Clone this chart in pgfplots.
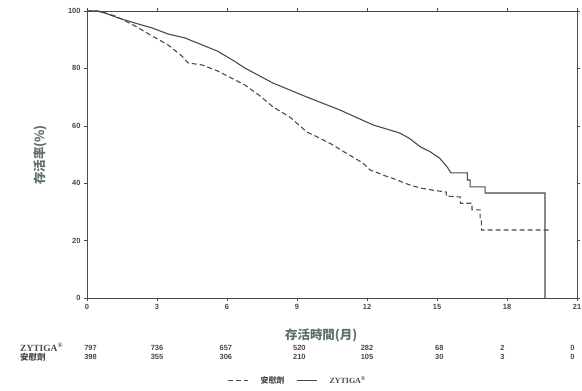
\documentclass[border=0pt]{standalone}
\usepackage{pgfplots}
\pgfplotsset{compat=1.18}
\usepackage{fontspec}
\setmainfont{Liberation Sans}
\newfontfamily\cjk{Noto Sans CJK TC}
\newfontfamily\serifz{Liberation Serif}
\definecolor{txt}{HTML}{484848}
\definecolor{lab}{HTML}{5F6F68}
\definecolor{ln}{HTML}{4A4A4A}
\tikzset{rowA/.style={text=txt, font=\bfseries\fontsize{7.5}{8}\selectfont, inner sep=0pt}}
\begin{document}
\begin{tikzpicture}
\path[use as bounding box] (-87bp,-93bp) rectangle (495bp,298bp);
\begin{axis}[
  at={(0,0)}, anchor=south west,
  width=490bp, height=287bp, scale only axis,
  xmin=0, xmax=21, ymin=0, ymax=100,
  xtick={0,3,...,21}, ytick={0,20,...,100},
  tick align=outside, major tick length=3bp,
  tick style={ln, line width=0.6pt},
  axis line style={ln, line width=0.8pt},
  tick label style={font=\fontsize{7.5}{8}\selectfont\bfseries, text=txt},
  /pgf/number format/assume math mode=true,
  xlabel={\cjk 存活時間(月)},
  ylabel={\cjk 存活率(\%)},
  xlabel style={font=\fontsize{12.5}{14}\selectfont\bfseries, text=lab, at={(axis description cs:0.478,-0.129)}, anchor=center},
  ylabel style={font=\fontsize{12.5}{14}\selectfont\bfseries, text=lab, at={(axis description cs:-0.096,0.498)}, anchor=center},
  clip=false,
  legend columns=2,
  legend style={draw=none, fill=none, at={(axis description cs:0.43,-0.289)}, anchor=center,
    font=\fontsize{8}{9}\selectfont, text=txt, column sep=10bp},
  legend cell align=left,
  legend image code/.code={\draw[#1] (0bp,0bp) -- (20bp,0bp);},
]
\addplot[ln, line width=1.1pt, dash pattern=on 5bp off 3bp] coordinates {
(0,100) (0.5,100) (1.2,98.3) (2.06,94.8) (2.79,91.3) (3.47,88.2) (4.07,84.3) (4.33,81.9) (4.93,81.2) (5.6,79.1) (6.34,76) (6.77,74.2) (7.4,70.5) (7.97,66.6) (8.7,63) (9.43,57.8) (9.9,56) (10.5,53.5) (11.1,50.5) (11.5,48.6) (11.83,47) (12.13,44.6) (12.5,43.5) (12.8,42.5) (13.2,41.4) (13.5,40.4) (13.9,39.2) (14.3,38.3) (14.8,37.6) (15.4,36.9) (15.4,35.5) (16.0,35.2) (16.0,33) (16.5,33) (16.5,30.7) (16.85,30.7) (16.85,27.9) (16.9,27.9) (16.9,23.7) (19.84,23.7)
};
\addlegendentry{\cjk\bfseries 安慰劑}
\addplot[ln, line width=1.1pt] coordinates {
(0,100) (0.4,100) (0.77,99.3) (1.33,97.6) (2.06,95.8) (2.79,94.1) (3.47,92) (4.2,90.6) (4.93,88.2) (5.6,86) (6.3,82.6) (6.77,80.1) (7.97,74.9) (9.43,70) (10.84,65.5) (12.26,60.3) (13.4,57.5) (13.8,55.7) (14.3,52.6) (14.7,51) (15.1,48.8) (15.3,47) (15.45,45.5) (15.6,43.6) (16.3,43.6) (16.3,41.1) (16.42,41.1) (16.42,38.7) (17.06,38.7) (17.06,36.6) (19.63,36.6) (19.63,0)
};
\addlegendentry{\serifz\bfseries ZYTIGA\textsuperscript{®}}
% number at risk
\node[anchor=west, text=txt, font=\serifz\bfseries\fontsize{9.5}{9.5}\selectfont, inner sep=0pt] at (axis cs:-2.87,-17.1) {ZYTIGA\textsuperscript{®}};
\node[anchor=west, text=txt, font=\cjk\bfseries\fontsize{8.5}{8.5}\selectfont, inner sep=0pt] at (axis cs:-2.87,-20.5) {安慰劑};
\node[rowA] at (axis cs:0.15,-17.3) {797};
\node[rowA] at (axis cs:3.0,-17.3) {736};
\node[rowA] at (axis cs:5.95,-17.3) {657};
\node[rowA] at (axis cs:9.1,-17.3) {520};
\node[rowA] at (axis cs:12.0,-17.3) {282};
\node[rowA] at (axis cs:15.1,-17.3) {68};
\node[rowA] at (axis cs:17.8,-17.3) {2};
\node[rowA] at (axis cs:20.8,-17.3) {0};
\node[rowA] at (axis cs:0.15,-20.4) {398};
\node[rowA] at (axis cs:3.0,-20.4) {355};
\node[rowA] at (axis cs:5.95,-20.4) {306};
\node[rowA] at (axis cs:9.1,-20.4) {210};
\node[rowA] at (axis cs:12.0,-20.4) {105};
\node[rowA] at (axis cs:15.1,-20.4) {30};
\node[rowA] at (axis cs:17.8,-20.4) {3};
\node[rowA] at (axis cs:20.8,-20.4) {0};
\end{axis}
\end{tikzpicture}
\end{document}
